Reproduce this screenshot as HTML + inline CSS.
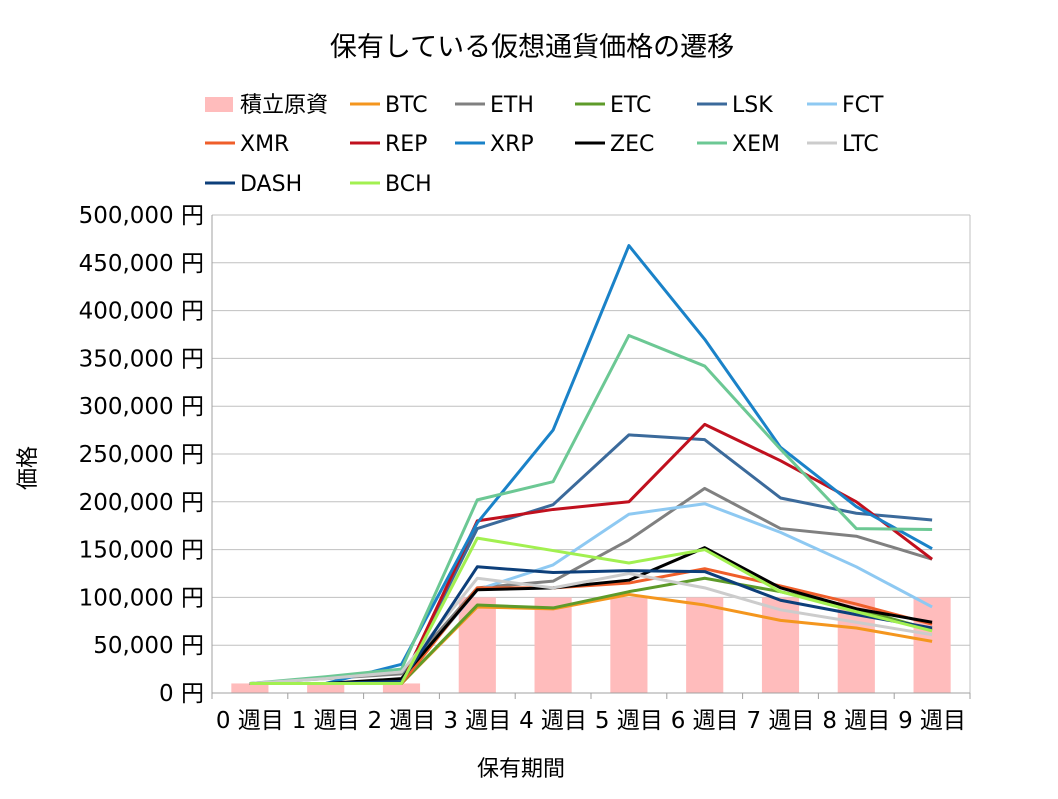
<!DOCTYPE html>
<html><head><meta charset="utf-8"><style>
body{margin:0;background:#fff}
svg text{font-family:"DejaVu Sans","Noto Sans CJK JP",sans-serif;fill:#000}
</style></head><body>
<svg id="chart" width="1058" height="794" xmlns="http://www.w3.org/2000/svg">
<rect width="1058" height="794" fill="#fff"/>
<text x="532" y="56" font-size="27" text-anchor="middle">保有している仮想通貨価格の遷移</text>
<g id="grid"></g><g id="bars"></g><g id="lines"></g><g id="axes"></g><g id="legend"></g>
<text x="0" y="0" font-size="22" text-anchor="middle" transform="translate(35,468) rotate(-90)">価格</text>
<text x="521" y="776" font-size="22" text-anchor="middle">保有期間</text>
</svg>
<script>
const categories=["0 週目","1 週目","2 週目","3 週目","4 週目","5 週目","6 週目","7 週目","8 週目","9 週目"];
const yTicks=[0,50000,100000,150000,200000,250000,300000,350000,400000,450000,500000];
const principal=[10000,10000,10000,100000,100000,100000,100000,100000,100000,100000];
const seriesNames=["BTC","ETH","ETC","LSK","FCT","XMR","REP","XRP","ZEC","XEM","LTC","DASH","BCH"];
const seriesColors=["#f4961e","#808080","#5e9b2a","#3b6a9b","#8ec9f2","#ef5e2a","#c0101e","#1a82c8","#000000","#6cc894","#cccccc","#0d3f7a","#a2f050"];
const BTC=[10000,10000,10000,90000,88000,103000,92000,76000,68000,54000];
const ETH=[10000,15000,20000,110000,117000,160000,214000,172000,164000,140000];
const ETC=[10000,10000,10000,92000,89000,106000,120000,106000,88000,66000];
const LSK=[10000,10000,12000,172000,197000,270000,265000,204000,188000,181000];
const FCT=[10000,10000,12000,108000,134000,187000,198000,168000,132000,90000];
const XMR=[10000,10000,10000,110000,110000,115000,130000,112000,93000,72000];
const REP=[10000,10000,10000,180000,192000,200000,281000,243000,200000,140000];
const XRP=[10000,10000,30000,178000,275000,468000,370000,257000,195000,151000];
const ZEC=[10000,10000,15000,108000,110000,118000,152000,110000,88000,74000];
const XEM=[10000,17000,25000,202000,221000,374000,342000,255000,172000,171000];
const LTC=[10000,15000,22000,120000,110000,125000,110000,87000,74000,61000];
const DASH=[10000,10000,12000,132000,126000,128000,127000,97000,82000,68000];
const BCH=[10000,10000,10000,162000,149000,136000,150000,106000,85000,65000];
const seriesData=[BTC,ETH,ETC,LSK,FCT,XMR,REP,XRP,ZEC,XEM,LTC,DASH,BCH];

const NS="http://www.w3.org/2000/svg";
const X0=212,X1=970,Y0=693,Y1=215,YMAX=500000;
const band=(X1-X0)/categories.length;
const xc=i=>X0+band*(i+0.5);
const y=v=>Y0-(v/YMAX)*(Y0-Y1);
function mk(parent,tag,attrs){const e=document.createElementNS(NS,tag);for(const k in attrs)e.setAttribute(k,attrs[k]);document.getElementById(parent).appendChild(e);return e;}
yTicks.forEach((t,i)=>{
  const g=mk("grid","line",{x1:X0,x2:X1,y1:y(t),y2:y(t),stroke:"#c0c0c0","stroke-width":1});
  
  
  const tx=mk("axes","text",{x:X0-8,y:y(t)+8,"font-size":23,"text-anchor":"end"});
  tx.textContent=t.toLocaleString("en-US")+" 円";
  
  
});
mk("axes","line",{x1:X1,x2:X1,y1:Y1,y2:Y0,stroke:"#c0c0c0"});
const xa=mk("axes","line",{x1:X0,x2:X1,y1:Y0,y2:Y0,stroke:"#a0a0a0"});


mk("axes","line",{x1:X0,x2:X0,y1:Y1,y2:Y0,stroke:"#a0a0a0"});
categories.forEach((c,i)=>{
  mk("axes","line",{x1:X0+band*i,x2:X0+band*i,y1:Y0,y2:Y0+6,stroke:"#a0a0a0"});
  const tx=mk("axes","text",{x:xc(i),y:728,"font-size":23,"text-anchor":"middle"});
  tx.textContent=c;
  
  
});
mk("axes","line",{x1:X1,x2:X1,y1:Y0,y2:Y0+6,stroke:"#a0a0a0"});
const bw=band*0.49;
principal.forEach((v,i)=>{
  const r=mk("bars","rect",{x:xc(i)-bw/2,y:y(v),width:bw,height:Y0-y(v),fill:"#ffbcbc"});
  
  
});
seriesData.forEach((d,s)=>{
  const p=mk("lines","polyline",{points:d.map((v,i)=>xc(i)+","+y(v)).join(" "),fill:"none",stroke:seriesColors[s],"stroke-width":3,"stroke-linejoin":"round"});
  
  
});
const colX=[205,350,455,575,697,807],rowY=[104,143,183];
const lr=mk("legend","rect",{x:205,y:97,width:28,height:15,fill:"#ffbcbc"});


const lt=mk("legend","text",{x:240,y:112,"font-size":22});
lt.textContent="積立原資";


seriesNames.forEach((n,s)=>{
  const k=s+1,col=k%6,row=Math.floor(k/6);
  const x=colX[col],yy=rowY[row];
  const l=mk("legend","line",{x1:x,x2:x+30,y1:yy,y2:yy,stroke:seriesColors[s],"stroke-width":3});
  
  
  const t=mk("legend","text",{x:x+35,y:yy+8,"font-size":22});
  t.textContent=n;
  
  
});
</script>
</body></html>
